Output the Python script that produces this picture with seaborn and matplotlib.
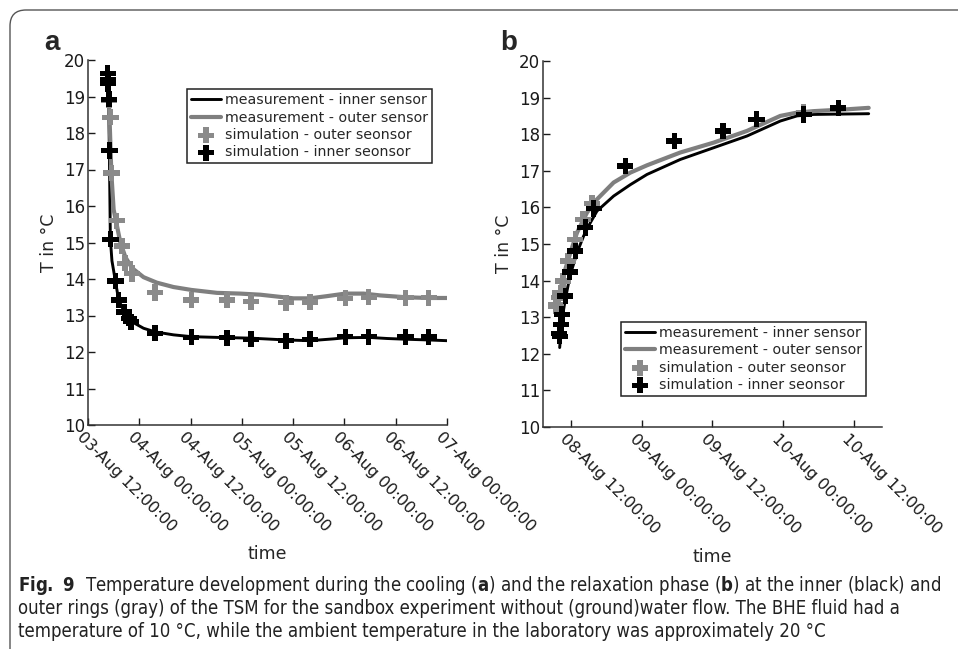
import pandas as pd
import matplotlib
matplotlib.use("Agg")
import matplotlib.pyplot as plt
import matplotlib.dates as mdates
from matplotlib.patches import FancyBboxPatch
from matplotlib.transforms import ScaledTranslation
from matplotlib import font_manager
import seaborn as sns

# ---- data (hours after panel start time, temperature in degC) ----
a_start = pd.Timestamp("2019-08-03 12:00")
b_start = pd.Timestamp("2019-08-08 12:00")

# panel a - cooling phase
a_inner_h = [4.6, 4.84, 5.0, 5.23, 5.6, 6.4, 7.18, 8.5, 9.5, 10.7, 13.0, 15.76, 20.0, 24.2,
             30.2, 38.0, 46.3, 51.9, 57.5, 60.2, 65.7, 70.0, 74.3, 79.7, 84.0]
a_inner_T = [19.55, 18.9, 17.5, 15.1, 14.5, 13.95, 13.42, 13.1, 12.92, 12.8, 12.65, 12.55, 12.47, 12.42,
             12.4, 12.38, 12.33, 12.31, 12.36, 12.39, 12.4, 12.37, 12.35, 12.33, 12.31]
a_outer_h = [4.84, 5.07, 5.46, 6.0, 6.7, 7.57, 8.74, 10.3, 13.0, 16.1, 20.0, 24.2, 30.2, 35.6,
             40.3, 44.2, 48.1, 51.9, 55.9, 60.2, 64.5, 68.4, 74.3, 79.7, 84.0]
a_outer_T = [19.0, 18.3, 16.9, 15.9, 15.5, 15.0, 14.6, 14.3, 14.05, 13.9, 13.78, 13.7, 13.62, 13.6,
             13.57, 13.52, 13.47, 13.47, 13.53, 13.6, 13.6, 13.55, 13.5, 13.48, 13.48]
a_sim_outer_h = [4.87, 5.26, 5.5, 6.7, 7.98, 8.7, 10.3, 15.7, 24.2, 32.5, 38.1, 46.3, 51.9, 60.2, 65.7, 74.3, 79.7]
a_sim_outer_T = [18.9, 18.43, 16.9, 15.6, 14.9, 14.43, 14.15, 13.63, 13.42, 13.42, 13.38, 13.35, 13.37, 13.47, 13.5, 13.49, 13.49]
a_sim_inner_h = [4.6, 4.65, 4.7, 4.87, 5.02, 5.26, 6.43, 7.2, 8.5, 9.5, 10.1, 15.7, 24.2, 32.5,
                 38.1, 46.3, 51.9, 60.2, 65.7, 74.3, 79.7]
a_sim_inner_T = [19.63, 19.45, 19.35, 18.92, 17.52, 15.09, 13.95, 13.42, 13.1, 12.92, 12.83, 12.51, 12.4, 12.39,
                 12.35, 12.31, 12.35, 12.42, 12.42, 12.42, 12.42]

# panel b - relaxation phase
b_inner_h = [-1.92, -1.53, -0.96, -0.40, 0.17, 1.02, 2.15, 3.28, 4.41, 7.24, 10.07, 12.9, 18.56,
             24.22, 29.88, 35.54, 38.37, 41.2, 45.73, 50.54]
b_inner_T = [12.17, 12.94, 13.49, 13.94, 14.31, 14.76, 15.22, 15.58, 15.9, 16.31, 16.62, 16.9, 17.31,
             17.63, 17.95, 18.36, 18.5, 18.54, 18.55, 18.56]
b_outer_h = [-2.49, -1.81, -0.96, -0.11, 1.02, 2.72, 4.41, 7.24, 10.07, 12.9, 18.56, 24.22, 29.88,
             35.54, 38.37, 41.2, 46.86, 50.54]
b_outer_T = [13.2, 13.76, 14.31, 14.76, 15.31, 15.86, 16.22, 16.68, 16.95, 17.15, 17.5, 17.77, 18.09,
             18.5, 18.59, 18.63, 18.68, 18.72]
b_sim_outer_h = [-2.6, -2.49, -2.09, -1.81, -1.36, -0.57, 0.74, 2.04, 3.57, 39.5]
b_sim_outer_T = [13.3, 13.35, 13.53, 13.67, 13.99, 14.54, 15.13, 15.67, 16.11, 18.6]
b_sim_inner_h = [-1.98, -1.92, -1.70, -1.53, -0.96, -0.23, 0.74, 2.43, 3.85, 9.22, 17.54, 25.8, 31.5, 39.5, 45.4]
b_sim_inner_T = [12.55, 12.48, 12.8, 13.08, 13.58, 14.24, 14.81, 15.45, 15.97, 17.13, 17.81, 18.09, 18.41, 18.54, 18.72]

legend_labels = ["measurement - inner sensor", "measurement - outer sensor",
                 "simulation - outer seonsor", "simulation - inner seonsor"]
y_ticks = list(range(10, 21))

caption_lines = [
    r"$\mathbf{Fig.\ 9}$  Temperature development during the cooling ($\mathbf{a}$) and the relaxation phase ($\mathbf{b}$) at the inner (black) and",
    "outer rings (gray) of the TSM for the sandbox experiment without (ground)water flow. The BHE fluid had a",
    "temperature of 10 \u00b0C, while the ambient temperature in the laboratory was approximately 20 \u00b0C",
]


def to_time(start, hours):
    return start + pd.to_timedelta(hours, unit="h")


sns.set_style("ticks")
plt.rcParams["font.family"] = ["DejaVu Sans"]

# caption font: a condensed face if one is installed
fonts = font_manager.fontManager.ttflist
cap_family, cap_stretch = "Liberation Sans", "normal"
if any(f.name == "Liberation Sans Narrow" for f in fonts):
    cap_family = "Liberation Sans Narrow"
elif any(f.name == "DejaVu Sans" and "condensed" in str(f.stretch) for f in fonts):
    cap_family, cap_stretch = "DejaVu Sans", "condensed"
suffix = ":stretch=condensed" if cap_stretch == "condensed" else ""
plt.rcParams["mathtext.fontset"] = "custom"
plt.rcParams["mathtext.rm"] = cap_family + suffix
plt.rcParams["mathtext.bf"] = cap_family + ":bold" + suffix

W, H = 958, 649
fig = plt.figure(figsize=(W / 100, H / 100), dpi=100)
gray_line = "#7f7f7f"
gray_mark = "#8a8a8a"
shift = ScaledTranslation(-0.09, -0.07, fig.dpi_scale_trans)


def panel(rect, start, inner, outer, sim_outer, sim_inner, xlim, leg_anchor):
    ax = fig.add_axes(rect)
    sns.lineplot(x=to_time(start, inner[0]), y=inner[1], ax=ax, color="black", lw=2.1,
                 label=legend_labels[0])
    sns.lineplot(x=to_time(start, outer[0]), y=outer[1], ax=ax, color=gray_line, lw=3.0,
                 label=legend_labels[1])
    sns.scatterplot(x=to_time(start, sim_outer[0]), y=sim_outer[1], ax=ax, marker="P", s=135,
                    color=gray_mark, edgecolor="none", label=legend_labels[2], zorder=3)
    sns.scatterplot(x=to_time(start, sim_inner[0]), y=sim_inner[1], ax=ax, marker="P", s=135,
                    color="black", edgecolor="none", label=legend_labels[3], zorder=4)
    ax.set_xlim(to_time(start, xlim[0]), to_time(start, xlim[1]))
    ax.set_ylim(10, 20)
    ax.set_yticks(y_ticks)
    ax.xaxis.set_major_locator(mdates.HourLocator(byhour=[0, 12]))
    ax.xaxis.set_major_formatter(mdates.DateFormatter("%d-%b %H:%M:%S"))
    ax.tick_params(direction="in", length=5, width=1, labelsize=12, colors="#1a1a1a", pad=2)
    ax.tick_params(axis="x", labelsize=11.5)
    for lab in ax.get_xticklabels():
        lab.set_rotation(-45)
        lab.set_ha("left")
        lab.set_va("center")
        lab.set_rotation_mode("anchor")
        lab.set_transform(lab.get_transform() + shift)
    for s in ["top", "right"]:
        ax.spines[s].set_visible(False)
    for s in ["left", "bottom"]:
        ax.spines[s].set_color("#333333")
        ax.spines[s].set_linewidth(1.1)
    ax.set_xlabel("time", fontsize=12.5)
    ax.set_ylabel("T in \u00b0C", fontsize=12.5, labelpad=4)
    ax.xaxis.set_label_coords(0.5, -0.33)
    leg = ax.legend(loc="upper left", bbox_to_anchor=leg_anchor, fontsize=10.2, frameon=True,
                    fancybox=False, framealpha=1, edgecolor="#222222", borderpad=0.28,
                    labelspacing=0.24, handlelength=2.1, handletextpad=0.3, borderaxespad=0)
    leg.get_frame().set_linewidth(1.1)
    return ax


panel([88 / W, 1 - 425 / H, 359 / W, 365 / H], a_start,
      (a_inner_h, a_inner_T), (a_outer_h, a_outer_T),
      (a_sim_outer_h, a_sim_outer_T), (a_sim_inner_h, a_sim_inner_T),
      (0, 84), (0.276, 0.92))
panel([543 / W, 1 - 427 / H, 339 / W, 366 / H], b_start,
      (b_inner_h, b_inner_T), (b_outer_h, b_outer_T),
      (b_sim_outer_h, b_sim_outer_T), (b_sim_inner_h, b_sim_inner_T),
      (-4.75, 52.8), (0.23, 0.287))

# panel letters
fig.text(44 / W, 1 - 50 / H, "a", fontsize=20, weight="bold", family="Liberation Sans")
fig.text(500 / W, 1 - 50 / H, "b", fontsize=20, weight="bold", family="Liberation Sans")

# frame around figure
fig.patches.append(FancyBboxPatch((0.10, -1.0), 11.0, 6.39 + 1.0,
                                  boxstyle="round,pad=0,rounding_size=0.16",
                                  transform=fig.dpi_scale_trans, fill=False,
                                  edgecolor="#555555", lw=1.0))

# caption, sized so the first line fills the reference width
renderer = fig.canvas.get_renderer()
probe = fig.text(0, 0, caption_lines[0], fontsize=14, family=cap_family, fontstretch=cap_stretch)
w = probe.get_window_extent(renderer).width
probe.remove()
cap_size = 14 * 929 / w
for line, base in zip(caption_lines, [591, 614, 637]):
    fig.text(18 / W, 1 - base / H, line, fontsize=cap_size, family=cap_family,
             fontstretch=cap_stretch, va="baseline", color="#222222")

fig.savefig("out.png", dpi=100)
